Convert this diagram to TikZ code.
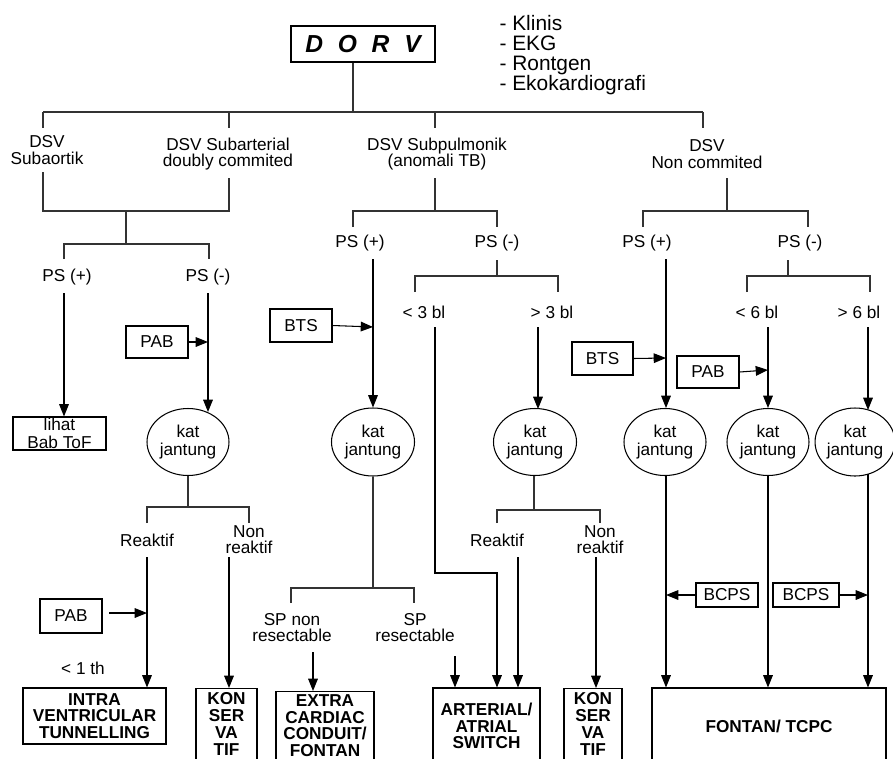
\documentclass[tikz,border=0pt]{standalone}
\usepackage{fontspec}
\setmainfont{Liberation Sans}
\usetikzlibrary{arrows.meta,shapes.geometric}

\def\px{0.02cm}

\begin{document}
\begin{tikzpicture}[x=\px,y=-\px,>={Triangle[length=7pt,width=5.5pt]},line width=0.6pt]
    \tikzstyle{flow}=[->,draw=black]
    \tikzstyle{tree}=[draw=black!80]
    \tikzstyle{lbl}=[align=center,inner sep=0pt,font=\fontsize{9.8}{9.5}\selectfont]
    \tikzstyle{smallbox}=[draw,rectangle,inner sep=0pt,minimum width=62*\px,minimum height=33*\px,font=\fontsize{9.8}{10.4}\selectfont,align=center]
    \tikzstyle{endbox}=[draw,rectangle,inner sep=0pt,minimum height=76*\px,align=center,font=\fontsize{9.8}{9.5}\selectfont\bfseries]
    \tikzstyle{endtxt}=[inner sep=0pt,align=center,font=\fontsize{9.8}{9.5}\selectfont\bfseries]
    \tikzstyle{kat}=[draw,ellipse,inner sep=0pt,minimum width=82*\px,minimum height=67*\px,align=center,font=\fontsize{9.8}{10.4}\selectfont]

    \useasboundingbox (0,0) rectangle (893,758);
    \clip (0,0) rectangle (893,758);

    % Top of the tree
    \node[draw,inner sep=0pt,minimum width=144*\px,minimum height=36*\px,font=\fontsize{14}{16}\selectfont\bfseries\itshape] (dorv) at (363,44) {D\hspace{.6em}O\hspace{.6em}R\hspace{.6em}V};
    \node[anchor=west,align=left,inner sep=0pt,font=\fontsize{11.9}{11.3}\selectfont] (exam) at (499,55) {- Klinis\\- EKG\\- Rontgen\\- Ekokardiografi};

    \coordinate (t0) at (353,112);
    \draw[tree] (dorv.south -| t0) -- (t0);
    \draw[tree] (43,112) -- (703,112);
    \foreach \x in {43,229,435,703}
        \draw[tree] (\x,112) -- (\x,128);

    % Types of DSV
    \node[lbl] (sao) at (47,150) {DSV\\Subaortik};
    \node[lbl] (sar) at (228,154) {DSV Subarterial\\doubly commited};
    \node[lbl] (spu) at (437,154) {DSV Subpulmonik\\(anomali TB)};
    \node[lbl] (snc) at (707,154) {DSV\\Non commited};

    \coordinate (m1) at (126,211);
    \coordinate (m2) at (126,244);
    \draw[tree] (43,172) |- (m1) -| (229,178);
    \draw[tree] (m1) -- (m2);
    \draw[tree] (64,259) |- (m2) -| (209,259);

    \coordinate (m3) at (435,211);
    \draw[tree] (435,178) -- (m3);
    \draw[tree] (353,227) |- (m3) -| (497,227);

    \coordinate (m4) at (727,211);
    \draw[tree] (727,178) -- (m4);
    \draw[tree] (643,227) |- (m4) -| (808,227);

    % PS (+) / PS (-)
    \node[lbl] (psa1) at (67,277) {PS (+)};
    \node[lbl] (psa2) at (208,277) {PS (-)};
    \node[lbl] (psb1) at (360,243) {PS (+)};
    \node[lbl] (psb2) at (497,243) {PS (-)};
    \node[lbl] (psc1) at (647,243) {PS (+)};
    \node[lbl] (psc2) at (800,243) {PS (-)};

    % Subaortik / subarterial
    \node[smallbox,minimum width=93*\px] (tof) at (59.5,433.5) {lihat\\Bab ToF};
    \draw[flow] (64,293) -- (tof.north -| 64,0);
    \node[smallbox,minimum height=32*\px] (pab1) at (157,342) {PAB};
    \node[kat] (k1) at (188,442) {kat\\jantung};
    \draw[flow] (208,293) -- (208,412);
    \draw[flow] (pab1.east) -- (208,342);

    \coordinate (m5) at (188,507);
    \draw[tree] (k1.south) -- (m5);
    \draw[tree] (147,523) |- (m5) -| (249,523);
    \node[lbl] (rk1) at (147,540) {Reaktif};
    \node[lbl] (nr1) at (249,539.5) {Non\\reaktif};

    \node[endbox,minimum width=143*\px,minimum height=56*\px] (ivt) at (94.5,716) {INTRA\\VENTRICULAR\\TUNNELLING};
    \node[smallbox,minimum height=34*\px] (pab2) at (71,616) {PAB};
    \node[lbl] (th1) at (83,668) {< 1 th};
    \draw[flow] (147,557) -- (ivt.north -| 147,0);
    \draw[flow] (109,613) -- (147,613);
    \node[endbox,minimum width=61*\px,minimum height=90*\px,anchor=north] (kon1) at (226.5,688) {};
    \node[endtxt] (kon1t) at (226.5,724) {KON\\SER\\VA\\TIF};
    \draw[flow] (229,557) -- (kon1.north -| 229,0);

    % Subpulmonik
    \node[smallbox] (bts1) at (301,325.5) {BTS};
    \node[kat,minimum width=83*\px,minimum height=68*\px] (k2) at (373,442) {kat\\jantung};
    \draw[flow] (373,259) -- (k2.north);
    \draw[flow] (bts1.east) -- (373,327);

    \coordinate (m6) at (373,588);
    \draw[tree] (k2.south) -- (m6);
    \draw[tree] (291,603) |- (m6) -| (414,603);
    \node[lbl] (spn) at (292,627.5) {SP non\\resectable};
    \node[lbl] (spr) at (415,627.5) {SP\\resectable};
    \node[endbox,minimum width=98*\px,minimum height=90*\px,anchor=north] (ecc) at (325,691) {};
    \node[endtxt] (ecct) at (325,725.5) {EXTRA\\CARDIAC\\CONDUIT/\\FONTAN};
    \draw[flow] (313,652) -- (ecc.north -| 313,0);

    \coordinate (m7) at (497,276);
    \draw[tree] (497,260) -- (m7);
    \draw[tree] (415,292) |- (m7) -| (558,292);
    \node[lbl] (lt3) at (424,312) {< 3 bl};
    \node[lbl] (gt3) at (552,312) {> 3 bl};
    \node[kat,minimum width=83*\px] (k3) at (535,442) {kat\\jantung};
    \draw[flow] (538,327) -- (538,409);

    \coordinate (m8) at (534,510);
    \draw[tree] (k3.south -| m8) -- (m8);
    \draw[tree] (497,523) |- (m8) -| (600,523);
    \node[lbl] (rk2) at (497,540) {Reaktif};
    \node[lbl] (nr2) at (600,539.5) {Non\\reaktif};

    \node[endbox,minimum width=107*\px] (aas) at (486.5,726) {ARTERIAL/\\ATRIAL\\SWITCH};
    \draw[flow] (455,656) -- (aas.north -| 455,0);
    \draw[flow] (435,327) |- (497,573) -- (aas.north -| 497,0);
    \draw[flow] (518,557) -- (aas.north -| 518,0);
    \node[endbox,minimum width=58*\px,minimum height=90*\px,anchor=north] (kon2) at (593,688) {};
    \node[endtxt] (kon2t) at (593,724) {KON\\SER\\VA\\TIF};
    \draw[flow] (596,557) -- (kon2.north -| 596,0);

    % Non commited
    \node[smallbox,minimum width=61*\px] (bts2) at (602.5,358.5) {BTS};
    \node[kat] (k4) at (665,442) {kat\\jantung};
    \draw[flow] (666,259) -- (666,408);
    \draw[flow] (bts2.east) -- (666,358);

    \coordinate (m9) at (788,276);
    \draw[tree] (788,260) -- (m9);
    \draw[tree] (747,292) |- (m9) -| (870,292);
    \node[lbl] (lt6) at (757,312) {< 6 bl};
    \node[lbl] (gt6) at (859,312) {> 6 bl};
    \node[smallbox,minimum height=32*\px] (pab3) at (708,372) {PAB};
    \node[kat] (k5) at (768,442) {kat\\jantung};
    \draw[flow] (768,327) -- (k5.north);
    \draw[flow] (pab3.east) -- (768,370);
    \node[kat,minimum width=76*\px,minimum height=68*\px] (k6) at (855,442) {kat\\jantung};
    \draw[flow] (868,327) -- (868,410);

    \node[endbox,minimum width=234*\px] (fon) at (769,726) {FONTAN/ TCPC};
    \draw[flow] (666,476) -- (fon.north -| 666,0);
    \draw[flow] (k5.south) -- (fon.north -| k5);
    \draw[flow] (868,474) -- (fon.north -| 868,0);

    \node[smallbox,minimum height=24*\px] (bcps1) at (727,595) {BCPS};
    \node[smallbox,minimum width=66*\px,minimum height=24*\px] (bcps2) at (806,595) {BCPS};
    \draw[flow] (bcps1.west) -- (666,595);
    \draw[flow] (bcps2.east) -- (868,595);
\end{tikzpicture}
\end{document}
